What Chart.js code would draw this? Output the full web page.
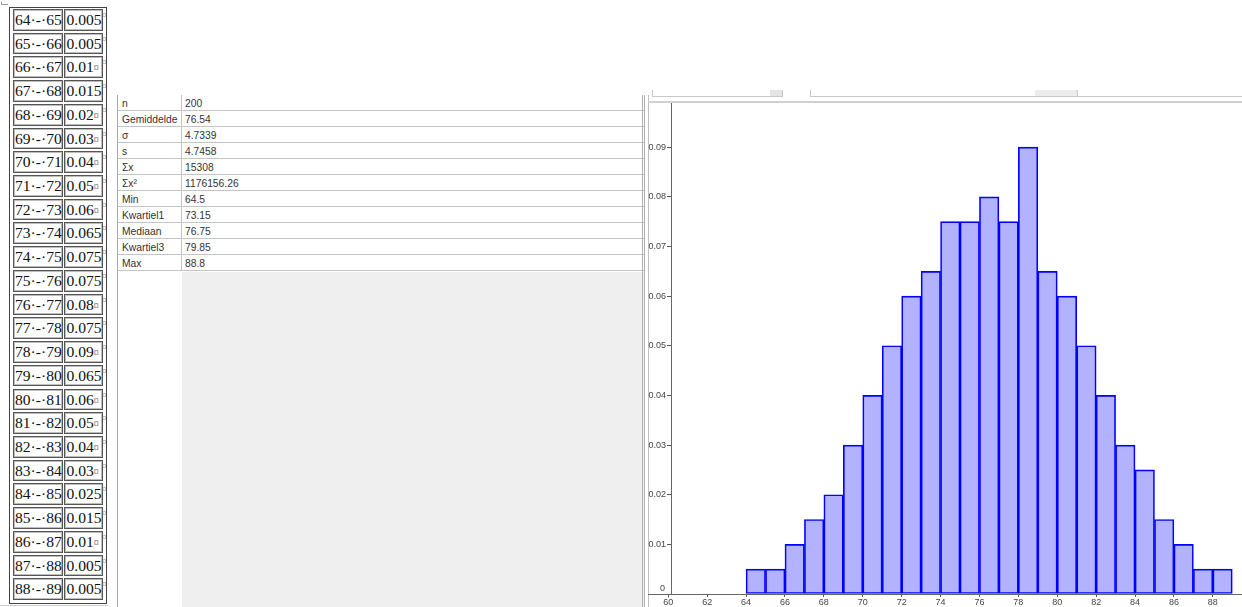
<!DOCTYPE html>
<html>
<head>
<meta charset="utf-8">
<script src="https://cdn.jsdelivr.net/npm/chart.js@4.4.1/dist/chart.umd.min.js"></script>
<style>
  body { margin: 0; width: 1242px; height: 607px; overflow: hidden; background: #fff; position: relative; font-family: "Liberation Sans", Arial, sans-serif; }
  .abs { position: absolute; }
  #woord { position: absolute; left: 9px; top: 7px; width: 96px; height: 595px; border: 1px solid #444; overflow: hidden; }
  .cel { position: absolute; height: 19.7px; border: 1px solid #555; box-shadow: inset 0 0 0 1px #bdbdbd;
         font-family: "Liberation Serif", "Times New Roman", serif; font-size: 15.6px; line-height: 20px; color: #111; white-space: nowrap; overflow: hidden; }
  .eind { font-size: 10px; color: #444; vertical-align: 1px; }
  .rij { position: absolute; font-size: 9px; color: #666; font-family: "Liberation Serif", serif; }
  #stats { position: absolute; left: 117px; top: 95px; width: 526px; height: 512px; border-left: 1px solid #aaa; background: #fff; }
  #stats .grijs { position: absolute; left: 64px; top: 177px; right: 0; bottom: 0; background: #efefef; }
  .srij { position: absolute; left: 0; width: 526px; height: 15px; border-bottom: 1px solid #c4c4c4; font-size: 10.3px; line-height: 17px; color: #333; }
  .srij span { position: absolute; top: 0; }
  .srij .lab { left: 4px; }
  .srij .val { left: 67px; }
  .kol { position: absolute; left: 63px; top: 0; width: 1px; height: 176px; background: #c4c4c4; }
  #histo { position: absolute; left: 648px; top: 103px; }
</style>
</head>
<body>
<div class="abs" style="left:1px;top:2px;width:6px;height:2px;border-bottom:1px solid #999;border-left:1px solid #999;"></div>
<div id="woord"></div>
<div class="abs" style="left:0;top:605px;width:108px;height:1px;background:#ccc;"></div>

<div id="stats"><div class="grijs"></div><div class="kol"></div></div>

<!-- paneelranden en werkbalk -->
<div class="abs" style="left:642px;top:95px;width:1px;height:512px;background:#b0b0b0;"></div>
<div class="abs" style="left:644px;top:95px;width:1px;height:512px;background:#b0b0b0;"></div>
<div class="abs" style="left:648px;top:95px;width:1px;height:512px;background:#c0c0c0;"></div>
<div class="abs" style="left:652px;top:90px;width:129px;height:6px;border:1px solid #c8c8c8;border-top:none;"></div>
<div class="abs" style="left:770px;top:90px;width:12px;height:6px;background:#e4e4e4;"></div>
<div class="abs" style="left:810px;top:90px;width:224px;height:6px;border:1px solid #c8c8c8;border-top:none;"></div>
<div class="abs" style="left:1035px;top:90px;width:42px;height:6px;background:#ececec;border-bottom:1px solid #c8c8c8;"></div>
<div class="abs" style="left:1077px;top:90px;width:170px;height:6px;border:1px solid #c8c8c8;border-top:none;"></div>
<div class="abs" style="left:648px;top:101px;width:594px;height:2px;background:#d0d0d0;"></div>

<canvas id="histo" width="594" height="504"></canvas>

<script>
// klassen (ondergrens) en relatieve frequentie per klasse
const klasseStart = [64, 65, 66, 67, 68, 69, 70, 71, 72, 73, 74, 75, 76, 77, 78, 79, 80, 81, 82, 83, 84, 85, 86, 87, 88];
const dichtheid = [0.005, 0.005, 0.01, 0.015, 0.02, 0.03, 0.04, 0.05, 0.06, 0.065, 0.075, 0.075, 0.08, 0.075, 0.09, 0.065, 0.06, 0.05, 0.04, 0.03, 0.025, 0.015, 0.01, 0.005, 0.005];

// statistieken
const statNamen = ["n", "Gemiddelde", "σ", "s", "Σx", "Σx²", "Min", "Kwartiel1", "Mediaan", "Kwartiel3", "Max"];
const statWaarden = ["200", "76.54", "4.7339", "4.7458", "15308", "1176156.26", "64.5", "73.15", "76.75", "79.85", "88.8"];

// assen
const xStap = 2;
const yStap = 0.01;
const xEersteLabel = 60; // valt net links van de y-as
const asFont = { family: "Liberation Sans", size: 9 };

// tabel links (Word)
function tekenTabel() {
  const box = document.getElementById("woord");
  const stap = 23.72;
  klasseStart.forEach((lo, i) => {
    const top = 1 + i * stap;
    const c1 = document.createElement("div");
    c1.className = "cel";
    c1.style.cssText = `left:2.5px;top:${top}px;width:47px;padding-left:1.5px;`;
    c1.textContent = `${lo}·-·${lo + 1}`;
    box.appendChild(c1);

    const c2 = document.createElement("div");
    c2.className = "cel";
    c2.style.cssText = `left:54px;top:${top}px;width:35px;padding-left:1.5px;`;
    const txt = String(dichtheid[i]);
    c2.innerHTML = txt + (txt.length < 5 ? '<span class="eind">¤</span>' : "");
    box.appendChild(c2);

    const m = document.createElement("span");
    m.className = "rij";
    m.style.cssText = `left:92px;top:${top + 1}px;`;
    m.textContent = "¤";
    box.appendChild(m);
  });
}

function tekenStats() {
  const box = document.getElementById("stats");
  statNamen.forEach((naam, i) => {
    const r = document.createElement("div");
    r.className = "srij";
    r.style.top = (i * 16) + "px";
    r.innerHTML = `<span class="lab">${naam}</span><span class="val">${statWaarden[i]}</span>`;
    box.appendChild(r);
  });
}

// x-as doortrekken links van de y-as, tickje bij 60, label "0" boven de as
const asVerlenging = {
  id: "asVerlenging",
  afterDraw(chart) {
    const { ctx, scales, chartArea } = chart;
    const y0 = Math.round(scales.y.getPixelForValue(0)) + 0.5;
    const x60 = Math.round(scales.x.getPixelForValue(xEersteLabel)) + 0.5;
    ctx.save();
    ctx.strokeStyle = "#666";
    ctx.lineWidth = 1;
    ctx.beginPath();
    ctx.moveTo(0, y0);
    ctx.lineTo(chartArea.left, y0);
    ctx.moveTo(x60, y0);
    ctx.lineTo(x60, y0 + 3);
    ctx.stroke();
    ctx.fillStyle = "#444";
    ctx.font = `${asFont.size}px "${asFont.family}"`;
    ctx.textAlign = "right";
    ctx.textBaseline = "bottom";
    ctx.fillText("0", chartArea.left - 6, y0 - 1);
    ctx.restore();
  }
};

function tekenHistogram() {
  const ctx = document.getElementById("histo").getContext("2d");
  new Chart(ctx, {
    type: "bar",
    data: {
      datasets: [{
        data: klasseStart.map((lo, i) => ({ x: lo + 0.5, y: dichtheid[i] })),
        backgroundColor: "rgba(0, 0, 255, 0.3)",
        borderColor: "rgb(0, 0, 255)",
        borderWidth: 1,
        borderSkipped: false,
        barPercentage: 1,
        categoryPercentage: 1
      }]
    },
    plugins: [asVerlenging],
    options: {
      animation: false,
      responsive: false,
      devicePixelRatio: 1,
      layout: { padding: 0 },
      plugins: { legend: { display: false }, tooltip: { enabled: false } },
      scales: {
        x: {
          type: "linear",
          min: 60.14,
          max: 89.5,
          offset: false,
          grid: { drawOnChartArea: false, tickLength: 3, color: "#555", offset: false },
          border: { color: "#666" },
          ticks: {
            stepSize: xStap, includeBounds: false, autoSkip: false, maxRotation: 0,
            padding: 0, color: "#444", font: asFont
          },
          afterBuildTicks: s => { s.ticks.unshift({ value: xEersteLabel }); },
          afterFit: s => { s.height = 13; s.paddingLeft = 0; s.paddingRight = 0; }
        },
        y: {
          position: "left",
          min: 0,
          max: 0.0989,
          grid: { drawOnChartArea: false, tickLength: 4, color: "#555" },
          border: { color: "#666" },
          ticks: {
            stepSize: yStap, includeBounds: false, padding: 1, color: "#444",
            font: asFont,
            // "0" wordt apart boven de x-as gezet
            callback: v => v === 0 ? "" : String(+v.toFixed(2))
          },
          afterFit: s => { s.width = 23; s.paddingTop = 0; s.paddingBottom = 0; }
        }
      }
    }
  });
}

document.addEventListener("DOMContentLoaded", () => {
  tekenTabel();
  tekenStats();
  tekenHistogram();
});
</script>
</body>
</html>
